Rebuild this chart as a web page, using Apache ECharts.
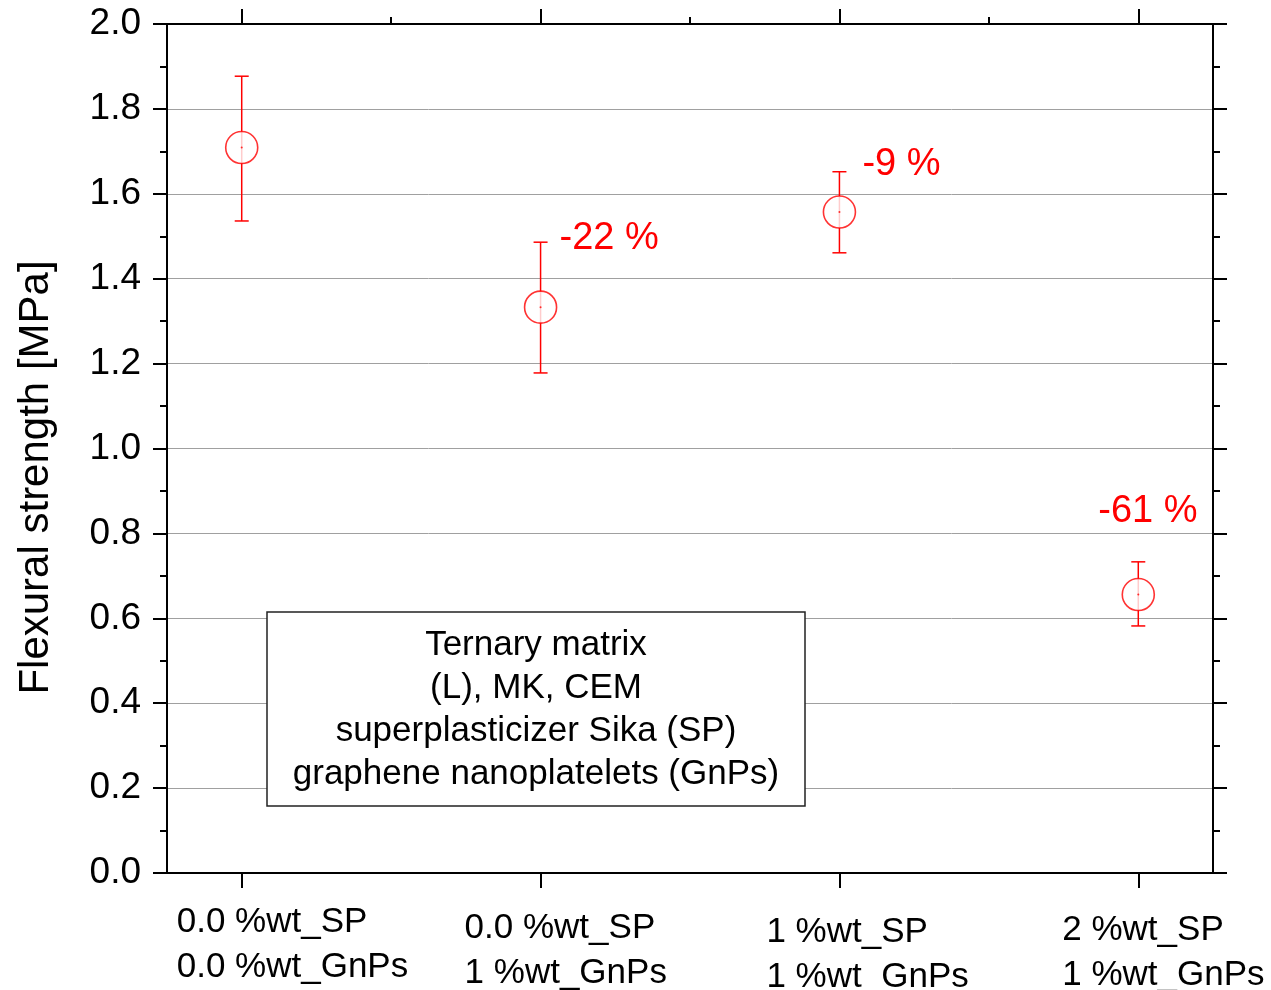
<!DOCTYPE html>
<html><head><meta charset="utf-8">
<script src="https://cdn.jsdelivr.net/npm/echarts@6/dist/echarts.min.js"></script>
<style>html,body{margin:0;padding:0;background:#fff}#c{width:1271px;height:990px}</style>
</head><body><div id="c"></div>
<script>
// ---- data ----
const categories = ['0.0 %wt_SP\n0.0 %wt_GnPs', '0.0 %wt_SP\n1 %wt_GnPs', '1 %wt_SP\n1 %wt_GnPs', '2 %wt_SP\n1 %wt_GnPs'];
const xPositions = [1, 2, 3, 4];
const strength = [1.709, 1.333, 1.557, 0.656];
const errLow = [1.536, 1.178, 1.461, 0.582];
const errHigh = [1.877, 1.486, 1.652, 0.733];
const changeLabels = ['', '-22 %', '-9 %', '-61 %'];
const boxLines = ['Ternary matrix', '(L), MK, CEM', 'superplasticizer Sika (SP)', 'graphene nanoplatelets (GnPs)'];
const yTitle = 'Flexural strength [MPa]';

// ---- style ----
const FONT = '"Liberation Sans", Arial, sans-serif';
const RED = '#ff0000';
const labelDx = [-65, -76, -73, -76];
const labelDy = [27, 33, 37, 35];
const annDx = [0, 19, 23, -40];
const annDy = [0, -4, -7, -50];

const chart = echarts.init(document.getElementById('c'), null, {renderer: 'canvas'});

const axisLineStyle = {color: '#000', width: 2};
const option = {
  animation: false,
  backgroundColor: '#fff',
  grid: {left: 167, right: 58, top: 24, bottom: 117, outerBoundsMode: 'none'},
  xAxis: [
    {type: 'value', position: 'bottom', min: 0.75, max: 4.25,
     axisLine: {show: true, onZero: false, lineStyle: axisLineStyle},
     axisTick: {show: true, customValues: xPositions, length: 15, lineStyle: axisLineStyle},
     axisLabel: {show: false}, splitLine: {show: false}},
    {type: 'value', position: 'top', min: 0.75, max: 4.25,
     axisLine: {show: true, onZero: false, lineStyle: axisLineStyle},
     axisTick: {show: true, customValues: xPositions, length: 15, lineStyle: axisLineStyle},
     axisLabel: {show: false}, splitLine: {show: false}},
    {type: 'value', position: 'top', min: 0.75, max: 4.25,
     axisLine: {show: false, onZero: false},
     axisTick: {show: true, customValues: [1.5, 2.5, 3.5], length: 7, lineStyle: axisLineStyle},
     axisLabel: {show: false}, splitLine: {show: false}}
  ],
  yAxis: [
    {type: 'value', position: 'left', min: 0, max: 2, interval: 0.2,
     name: yTitle, nameLocation: 'middle', nameGap: 110,
     nameTextStyle: {fontFamily: FONT, fontSize: 42, color: '#000', padding: [0, 58, 0, 0]},
     axisLine: {show: true, onZero: false, lineStyle: axisLineStyle},
     axisTick: {show: true, length: 14, lineStyle: axisLineStyle},
     minorTick: {show: true, splitNumber: 2, length: 7, lineStyle: axisLineStyle},
     axisLabel: {fontFamily: FONT, fontSize: 37, color: '#000', margin: 26, formatter: v => v.toFixed(1)},
     splitLine: {show: true, lineStyle: {color: '#a0a0a0', width: 1}}},
    {type: 'value', position: 'right', min: 0, max: 2, interval: 0.2,
     axisLine: {show: true, onZero: false, lineStyle: axisLineStyle},
     axisTick: {show: true, length: 14, lineStyle: axisLineStyle},
     minorTick: {show: true, splitNumber: 2, length: 7, lineStyle: axisLineStyle},
     axisLabel: {show: false}, splitLine: {show: false}}
  ],
  series: [
    {type: 'custom', xAxisIndex: 0, yAxisIndex: 0, z: 3,
     data: xPositions.map((x, i) => [x, errLow[i], errHigh[i]]),
     renderItem: function (params, api) {
       const x = api.value(0);
       const lo = api.coord([x, api.value(1)]);
       const hi = api.coord([x, api.value(2)]);
       const hw = 7;
       const st = {stroke: RED, lineWidth: 1.5};
       const i = params.dataIndex;
       const children = [
         {type: 'line', shape: {x1: lo[0], y1: lo[1], x2: hi[0], y2: hi[1]}, style: st},
         {type: 'line', shape: {x1: hi[0] - hw, y1: hi[1], x2: hi[0] + hw, y2: hi[1]}, style: st},
         {type: 'line', shape: {x1: lo[0] - hw, y1: lo[1], x2: lo[0] + hw, y2: lo[1]}, style: st}
       ];
       if (changeLabels[i]) {
         children.push({type: 'text', x: hi[0] + annDx[i], y: hi[1] + annDy[i],
           style: {text: changeLabels[i], fill: RED, font: '38px ' + FONT, textAlign: 'left', textVerticalAlign: 'middle'}});
       }
       return {type: 'group', children: children};
     }},
    {type: 'scatter', xAxisIndex: 0, yAxisIndex: 0, z: 4,
     data: xPositions.map((x, i) => [x, strength[i]]),
     symbol: 'circle', symbolSize: 32,
     itemStyle: {color: '#fff', borderColor: RED, borderWidth: 1.6}},
    {type: 'scatter', xAxisIndex: 0, yAxisIndex: 0, z: 5,
     data: xPositions.map((x, i) => [x, strength[i]]),
     symbol: 'circle', symbolSize: 2,
     itemStyle: {color: RED}}
  ]
};
chart.setOption(option);

// category labels under the ticks, and the descriptive box
const graphics = [];
xPositions.forEach((x, i) => {
  const p = chart.convertToPixel({xAxisIndex: 0, yAxisIndex: 0}, [x, 0]);
  graphics.push({type: 'text', x: p[0] + labelDx[i], y: p[1] + labelDy[i], z: 10,
    style: {text: categories[i], fill: '#000', font: '35px ' + FONT, textAlign: 'left', textVerticalAlign: 'top', lineHeight: 45}});
});
graphics.push({type: 'rect', shape: {x: 267, y: 612, width: 538, height: 194}, z: 10,
  style: {fill: '#fff', stroke: '#222', lineWidth: 1.5}});
boxLines.forEach((t, i) => {
  graphics.push({type: 'text', x: 536, y: 645 + i * 43, z: 11,
    style: {text: t, fill: '#000', font: '35px ' + FONT, textAlign: 'center', textVerticalAlign: 'middle'}});
});
chart.setOption({graphic: graphics});
</script>
</body></html>
